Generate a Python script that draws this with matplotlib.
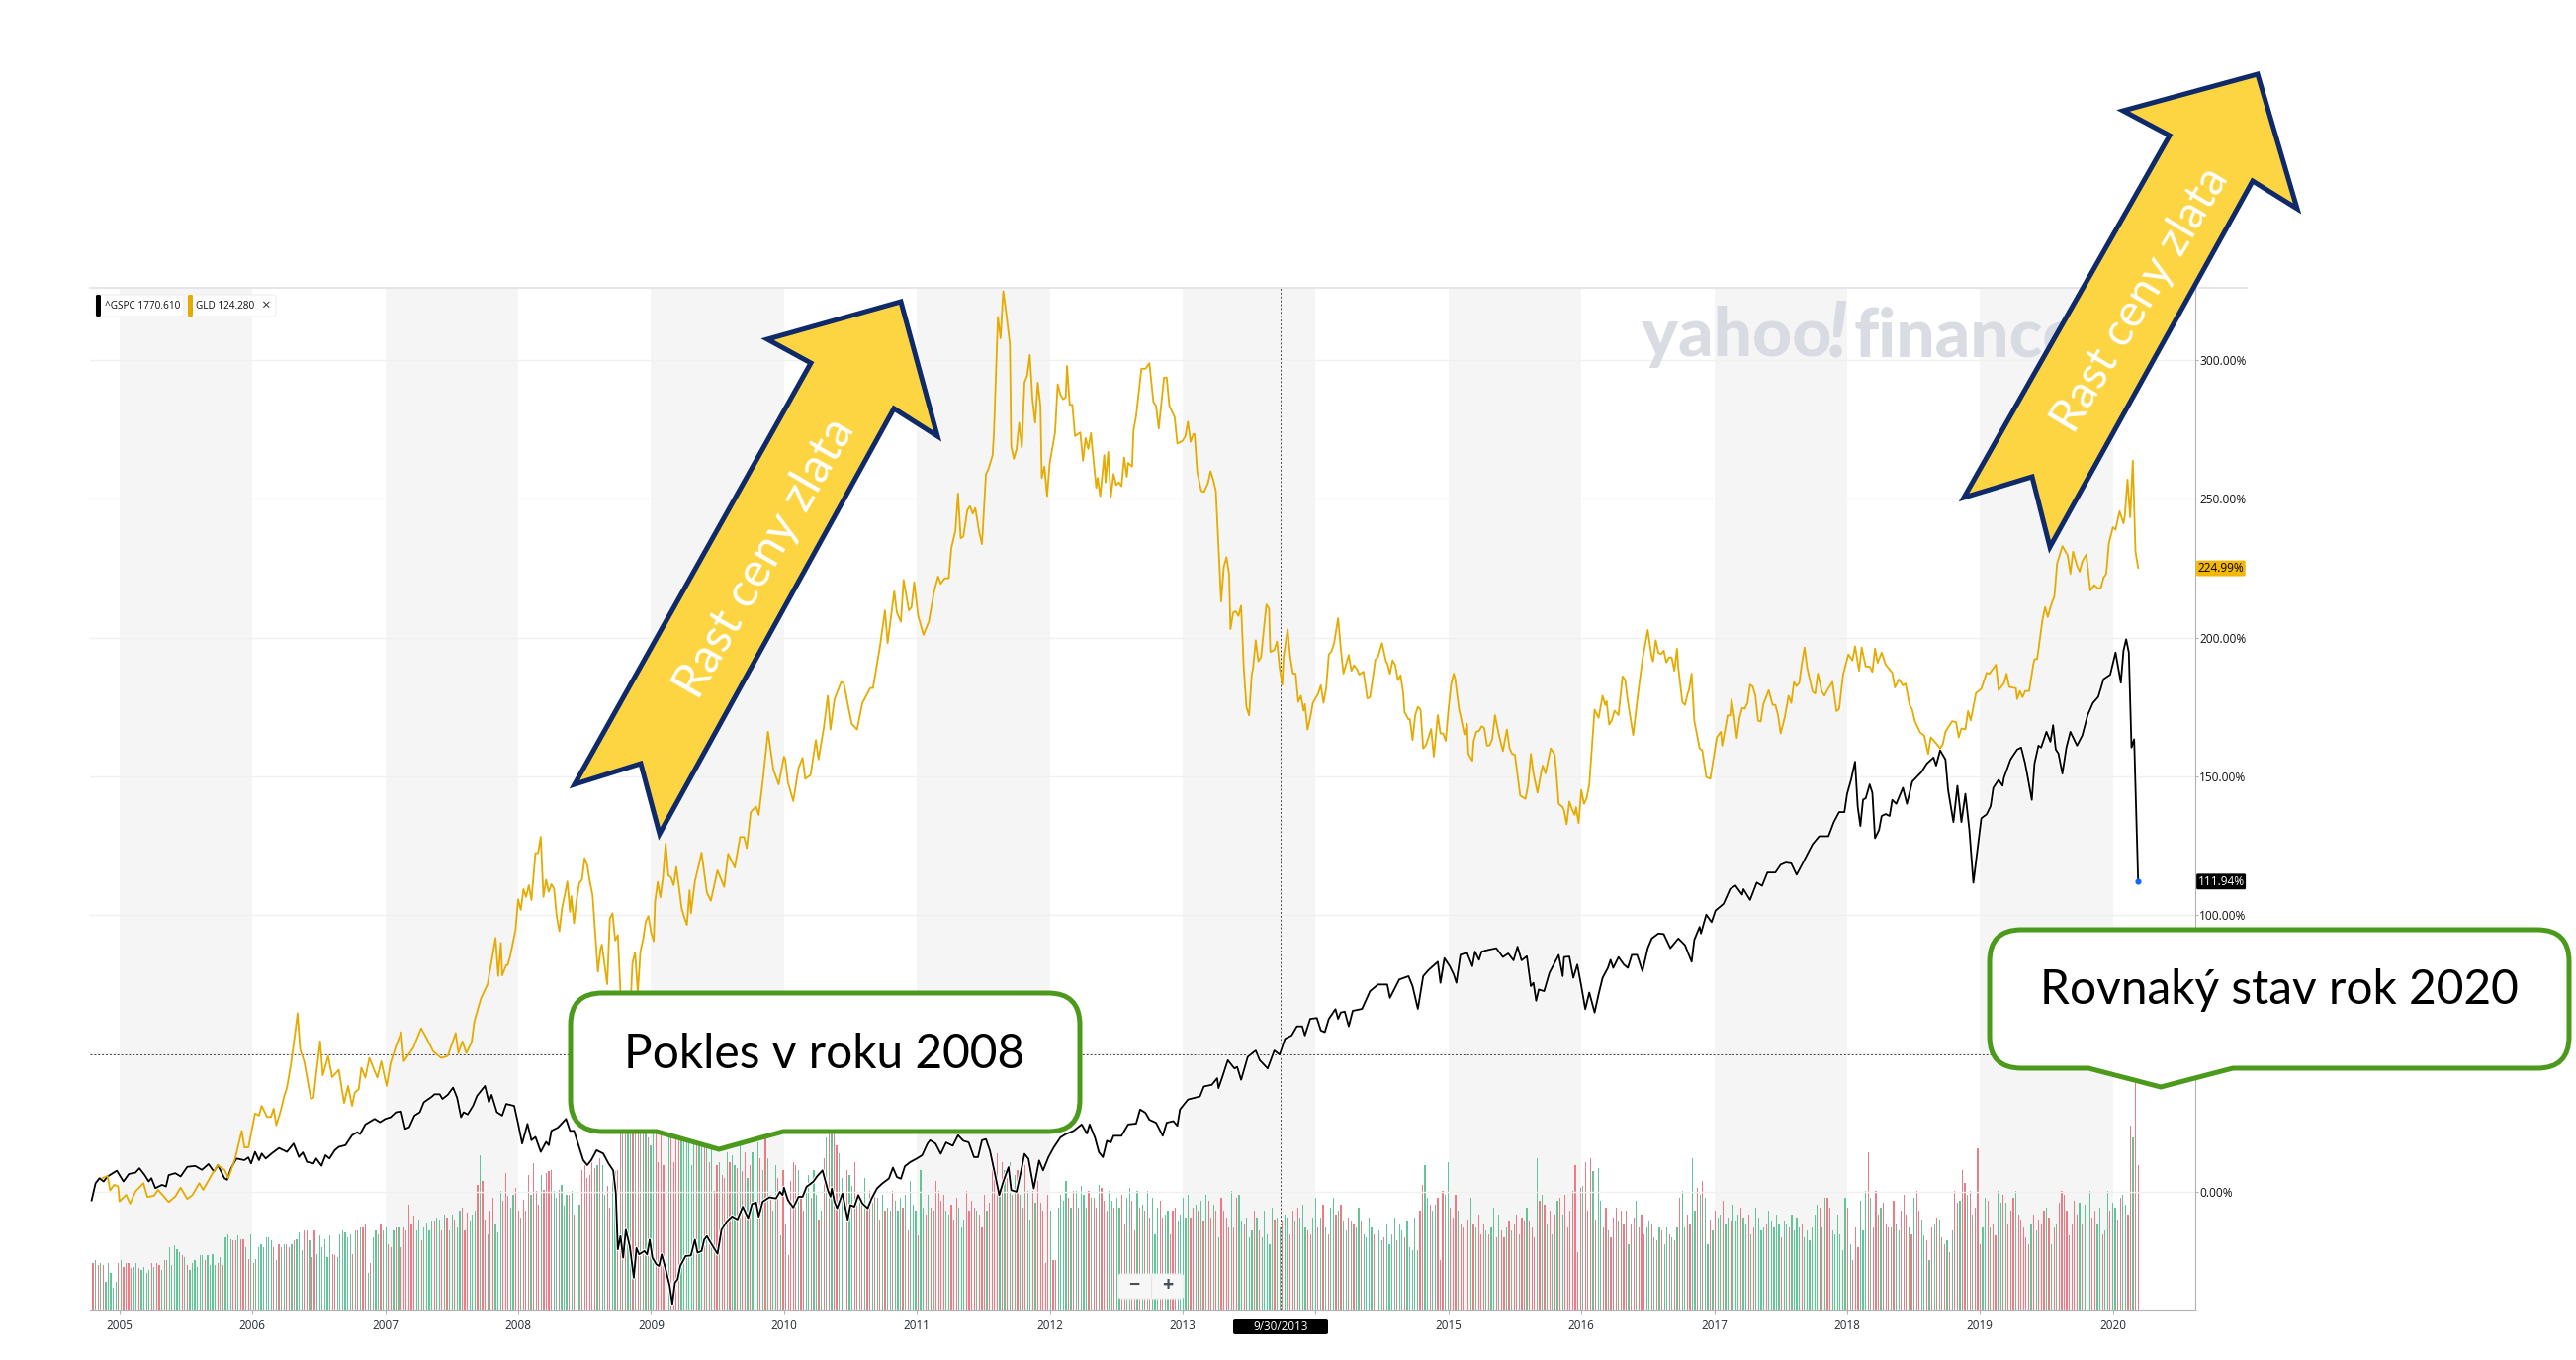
# Gold vs S&P 500, Yahoo Finance screenshot with callouts

import numpy as np
import matplotlib
matplotlib.use("Agg")
import matplotlib.pyplot as plt
import matplotlib.patheffects as pe
from matplotlib.patches import PathPatch, Polygon, FancyBboxPatch
from matplotlib.path import Path

# GLD, decimal year and % change
gld_years = [2004.87,2004.91,2004.93,2004.96,2004.99,2005.0,2005.05,2005.08,2005.12,2005.18,2005.21,2005.26,2005.29,2005.37,2005.42,2005.46,2005.51,2005.55,2005.6,2005.63,2005.7,2005.74,2005.79,2005.82,2005.87,2005.92,2005.94,2005.97,2006.02,2006.05,2006.07,2006.11,2006.14,2006.16,2006.18,2006.21,2006.24,2006.26,2006.29,2006.32,2006.34,2006.36,2006.39,2006.44,2006.46,2006.48,2006.51,2006.53,2006.57,2006.6,2006.65,2006.69,2006.72,2006.75,2006.77,2006.8,2006.82,2006.85,2006.88,2006.94,2006.97,2007.01,2007.04,2007.08,2007.12,2007.14,2007.21,2007.27,2007.31,2007.36,2007.42,2007.47,2007.53,2007.55,2007.58,2007.61,2007.65,2007.67,
             2007.72,2007.77,2007.83,2007.85,2007.87,2007.88,2007.91,2007.92,2007.94,2007.98,2008.0,2008.02,2008.04,2008.06,2008.08,2008.1,2008.12,2008.13,2008.15,2008.17,2008.19,2008.21,2008.23,2008.25,2008.27,2008.29,2008.31,2008.33,2008.35,2008.37,2008.39,2008.4,2008.42,2008.44,2008.46,2008.48,2008.5,2008.52,2008.54,2008.56,2008.58,2008.6,2008.62,2008.63,2008.65,2008.67,2008.69,2008.71,2008.73,2008.75,2008.77,2008.81,2008.85,2008.86,2008.88,2008.9,2008.92,2008.94,2008.96,2008.98,2009.0,2009.02,2009.03,2009.05,2009.07,2009.09,2009.11,2009.13,2009.15,2009.17,2009.19,2009.21,2009.23,2009.25,2009.27,2009.29,2009.3,2009.33,2009.36,2009.38,2009.42,2009.45,2009.5,2009.55,2009.58,2009.63,
             2009.67,2009.7,2009.72,2009.75,2009.79,2009.81,2009.84,2009.88,2009.92,2009.96,2010.0,2010.01,2010.03,2010.07,2010.11,2010.14,2010.16,2010.2,2010.24,2010.26,2010.3,2010.33,2010.35,2010.38,2010.43,2010.45,2010.49,2010.51,2010.55,2010.59,2010.65,2010.67,2010.72,2010.76,2010.78,2010.83,2010.85,2010.88,2010.9,2010.94,2010.96,2010.98,2011.01,2011.05,2011.09,2011.13,2011.16,2011.18,2011.21,2011.24,2011.26,2011.29,2011.31,2011.33,2011.35,2011.38,2011.4,2011.42,2011.44,2011.47,2011.49,2011.52,2011.54,2011.57,2011.58,2011.61,2011.63,2011.65,2011.67,2011.7,2011.71,2011.73,2011.75,2011.77,2011.79,2011.81,2011.83,2011.85,2011.87,2011.89,2011.91,2011.93,2011.94,2011.96,2011.98,2012.0,2012.02,2012.04,2012.06,2012.08,2012.1,2012.12,2012.13,2012.15,2012.17,2012.19,2012.23,2012.25,2012.27,2012.29,2012.31,2012.32,2012.35,2012.36,2012.38,2012.41,2012.42,2012.44,2012.46,2012.48,2012.5,2012.52,2012.54,2012.56,2012.58,2012.59,2012.62,2012.63,2012.65,2012.69,2012.72,2012.75,2012.78,2012.8,2012.82,2012.85,2012.86,2012.88,2012.9,2012.94,2012.96,2013.0,2013.02,2013.04,2013.06,2013.08,2013.09,2013.11,2013.14,2013.16,2013.19,2013.21,2013.23,2013.25,2013.29,2013.31,2013.33,2013.35,2013.36,2013.38,2013.4,2013.42,2013.44,2013.46,2013.48,2013.5,2013.52,2013.53,2013.55,2013.57,2013.59,2013.62,2013.63,2013.65,2013.66,2013.69,2013.71,2013.73,2013.75,2013.76,2013.79,2013.81,2013.83,2013.85,2013.87,2013.89,2013.91,2013.92,2013.94,2013.96,2013.98,2014.02,2014.04,2014.06,2014.08,2014.1,2014.12,2014.14,2014.17,2014.19,2014.21,2014.25,2014.27,2014.29,2014.31,2014.33,2014.36,2014.39,2014.41,2014.43,2014.45,2014.47,2014.5,2014.53,2014.54,2014.56,2014.58,2014.6,2014.62,2014.64,2014.66,2014.67,2014.7,2014.71,2014.73,2014.75,2014.77,2014.79,2014.81,2014.83,2014.87,2014.89,2014.92,2014.94,2014.96,2014.98,2015.0,2015.02,2015.04,2015.05,2015.08,2015.09,2015.12,2015.14,2015.15,2015.18,2015.19,2015.21,2015.23,2015.25,2015.27,2015.29,2015.31,2015.33,2015.35,2015.38,2015.41,2015.44,2015.46,2015.48,2015.5,2015.54,2015.58,2015.6,2015.62,2015.64,2015.67,2015.7,2015.71,2015.73,2015.77,2015.8,2015.81,2015.83,2015.86,2015.87,2015.89,2015.91,2015.93,2015.95,2015.96,2015.98,2016.0,2016.02,2016.04,2016.06,2016.08,2016.1,2016.13,2016.16,2016.18,2016.19,2016.21,2016.23,2016.25,2016.28,2016.31,2016.33,2016.35,2016.39,2016.43,2016.46,2016.5,2016.53,2016.54,2016.56,2016.58,2016.6,2016.62,2016.64,2016.66,2016.68,2016.7,2016.72,2016.73,2016.76,2016.78,2016.8,2016.81,2016.83,2016.85,2016.89,2016.91,2016.94,2016.97,2016.99,2017.02,2017.05,2017.06,2017.09,2017.1,2017.12,2017.13,2017.15,2017.17,2017.19,2017.21,2017.23,2017.25,2017.27,2017.29,2017.31,2017.33,2017.35,2017.37,2017.41,2017.44,2017.46,2017.48,2017.5,2017.53,2017.56,2017.58,2017.6,2017.62,2017.64,2017.66,2017.68,2017.7,2017.74,2017.76,2017.78,2017.81,2017.83,2017.85,2017.89,2017.92,2017.94,2017.97,2018.01,2018.04,2018.06,2018.09,2018.11,2018.14,2018.17,2018.19,2018.21,2018.23,2018.26,2018.29,2018.34,2018.36,2018.39,2018.42,2018.44,2018.47,2018.49,2018.51,2018.55,2018.58,2018.61,2018.63,2018.67,2018.7,2018.72,2018.74,2018.79,2018.82,2018.84,2018.86,2018.89,2018.91,2018.93,2018.97,2018.99,2019.01,2019.05,2019.07,2019.12,2019.14,2019.18,2019.2,2019.22,2019.27,2019.28,2019.3,2019.32,2019.34,2019.37,2019.4,2019.41,2019.43,2019.47,2019.49,2019.51,2019.53,2019.56,2019.58,2019.62,2019.66,2019.68,2019.7,2019.73,2019.75,2019.77,2019.8,2019.83,2019.86,2019.89,2019.91,2019.93,2019.95,2019.97,2020.0,2020.02,2020.05,2020.08,2020.09,2020.11,2020.13,2020.15,2020.17,2020.19]
gld_pct = [4.9,5.7,0.5,2.5,1.9,-3.5,-1.1,-4.3,0.1,3.1,-1.9,-1.4,0.7,-3.7,-1.7,1.5,-2.6,-1.1,3.1,0.7,6.7,9.6,7.9,4.9,12,22,16,16,28.3,27.5,31,27,27,30,24,28.7,34.6,37.6,46,56.7,64.4,51.3,47,33.5,34,42.4,54.3,42,49,41.4,44,32,38.2,31,35.8,37,44.8,41.2,48.3,41.2,47.1,38.2,46.5,52.5,57.6,47.1,51.9,59,55.5,50.7,48.3,49,57.3,50,54.3,50.1,54,61.4,
           69.8,74.9,91.6,77.9,89.8,78.1,81.8,81.8,85,94.5,105.5,101.7,109.2,106.4,110.6,105.3,116.6,122.2,122.2,128.1,106.4,112.6,108.2,111,109.4,99.3,94,102.3,107,112,101,106.7,96.9,105.3,111.4,112.6,120.4,117.8,111.8,107,93.4,79.4,87.6,89.2,82,74.9,98.7,100.5,90.7,92.6,71.9,66,71.9,82.6,86.4,71.9,86.8,91,97.5,99.5,93.6,90.4,104.7,111.8,106.2,113.6,125.7,114.2,113.4,110.6,117.2,110,102.3,99,96.3,108.8,100.5,112,118,122.4,108,105,116,110,122,117,
           128,128,124,137,139,136,148,166,152.5,147,157,156,147.7,141,153,156.6,149,150.4,163,156,167.5,179,166.8,177.7,183.9,183.6,173.6,168.9,166.8,176.4,181.8,181.8,196,209.8,198,216.7,209,205.7,220.8,209.8,211,220,207.8,201,205.7,216.7,222,219.4,221.4,221.4,232.4,238.5,252,235.8,236.5,246,247.4,244.7,246.7,237.8,233.7,259,261,265.8,274,315.7,308,325,318,306,269,264.5,268,277.5,268.6,292,294.5,302,286,277.5,292,283.6,257.6,261.7,251,263,268.6,274,291.4,287.7,286,286.6,298,284,284,272.7,274,263.8,272,268,273.8,268.6,254,257.6,251,265.8,256,267,250.8,259,255,256,254.6,265,258,263,261.7,274.7,280,297,297,299,285,283.6,275.4,289,293.8,293.8,283.6,279.5,270,271,272.7,277.9,270.6,273.4,273.4,259.7,252.9,252.5,255.6,260,257,252.9,213,225.5,229,222.8,203,209,209.5,207.8,211.5,189,175,171.9,186.6,189,199,191.4,193,207,211.9,210.5,194.8,195.5,198.6,189,183,193,203,192.8,187,187,176.8,179,173.6,176,166.8,171,176.4,179.8,182.8,176.4,181.8,193.9,195,198,207,196,187,193.7,188,190,188.7,186.6,187.7,178,178.5,185,192,193,198,191.4,190.7,186.9,191.8,190,184.6,186.4,179.8,173,170.5,170.5,163,172,175,174,160,161,167,157,172,165.4,165.4,162.7,174,183,187,185.3,174,172,165,168.9,158,155.5,162.7,166,166.3,168,167.3,161,161.1,163.4,172,164.8,159,166.8,160,158,157.7,143,141.8,147,158,151,144,152,153.8,151,160,157.7,152.5,140,138.8,137.6,132.6,140.8,138,136,138.8,133,145,140,142,147,160.7,174,171,179,175.7,177,168.6,170.2,173.6,172,186,184.7,177,164.8,181,192,202.7,192.8,191.4,199,194.5,194,195.3,191,192.8,192.8,188,196,189,176.8,175.7,179.8,181,187,170,160,159.3,149.7,149,155,164,166,161,168.9,171.9,171.9,177.7,171.6,163.7,170.9,174.6,174.3,176.4,183,182.3,179,170,169.7,176,181,175.7,175.7,172,165.4,171,179,176.4,183.9,182.5,183.6,190.7,196.4,189,180.5,179.8,187,180.5,179,181,184,173.5,174.2,186.6,193.9,191.7,196.8,188,196.4,189.5,189.5,187.6,196,190.9,194.6,190.2,187.3,182,184.9,182.7,183.4,175.7,174,169.8,165.7,164.7,158,164,161.8,160,161.5,166,169.8,169.5,164,167.2,166.9,173.5,170.1,180,180.7,181.5,187.3,186.9,190.2,181,183.5,187,182.2,181.7,177.8,180.7,178.5,180.7,180.7,190,192.2,192.2,206.3,211,207.4,211,215,226.7,233,229.6,223,231,225.9,223.8,227.5,230,217,218.9,217.7,218,221.6,223,234,239.8,238.9,245.6,241.2,244,257,243.4,263.8,231,225.2]

# S&P 500, decimal year and % change
spx_years = [2004.79,2004.82,2004.85,2004.88,2004.91,2004.95,2004.98,2005.03,2005.07,2005.12,2005.15,2005.19,2005.22,2005.24,2005.27,2005.32,2005.35,2005.37,2005.42,2005.46,2005.51,2005.57,2005.62,2005.67,2005.71,2005.74,2005.79,2005.81,2005.84,2005.88,2005.94,2005.97,2005.99,2006.02,2006.05,2006.07,2006.1,2006.15,2006.2,2006.26,2006.31,2006.35,2006.38,2006.41,2006.46,2006.48,2006.52,2006.55,2006.58,2006.62,2006.65,2006.7,2006.75,2006.79,2006.81,2006.85,2006.92,2006.96,2007.0,2007.04,2007.08,2007.12,2007.15,2007.18,2007.22,2007.26,2007.29,2007.35,2007.37,2007.41,2007.43,2007.47,2007.51,2007.54,2007.57,2007.59,2007.62,2007.66,2007.69,2007.75,2007.78,2007.8,2007.84,2007.88,2007.91,2007.97,2008.0,2008.03,2008.07,2008.1,2008.13,2008.17,2008.21,2008.23,2008.25,2008.3,2008.36,2008.39,2008.42,2008.46,2008.49,2008.52,2008.55,2008.59,2008.64,2008.68,
             2008.715,2008.735,2008.75,2008.77,2008.79,2008.81,2008.84,2008.87,2008.89,2008.91,2008.95,2008.97,2008.99,2009.01,2009.04,2009.06,2009.08,2009.11,2009.14,2009.16,2009.18,2009.2,2009.22,2009.26,2009.3,2009.33,2009.35,2009.38,2009.4,2009.42,2009.45,2009.5,2009.53,2009.57,2009.61,2009.65,2009.69,2009.73,2009.76,2009.79,2009.81,2009.84,2009.89,2009.94,2009.97,2009.99,2010.0,2010.03,2010.07,2010.11,2010.14,2010.17,2010.22,2010.25,2010.29,2010.33,2010.35,2010.36,2010.38,2010.4,2010.44,2010.48,2010.5,2010.53,2010.56,2010.59,2010.63,2010.66,2010.7,2010.74,2010.79,2010.82,2010.85,2010.88,2010.91,2010.95,
             2011.0,2011.04,2011.08,2011.1,2011.14,2011.18,2011.22,2011.27,2011.31,2011.35,2011.39,2011.43,2011.46,2011.49,2011.52,2011.55,2011.59,2011.62,2011.65,2011.69,2011.71,2011.75,2011.78,2011.81,2011.84,2011.88,2011.92,2011.95,2011.99,2012.03,2012.08,2012.12,2012.18,2012.24,2012.28,2012.3,2012.34,2012.37,2012.4,2012.43,2012.46,2012.48,2012.54,2012.59,2012.65,2012.68,2012.72,2012.75,2012.8,2012.85,2012.88,2012.93,2012.96,2012.98,2013.04,2013.13,2013.16,2013.22,2013.26,2013.27,2013.3,2013.34,2013.39,2013.41,2013.44,2013.49,2013.55,2013.58,2013.64,2013.69,2013.73,2013.77,2013.82,2013.86,2013.9,2013.92,2013.96,2014.01,2014.04,2014.07,2014.1,2014.15,2014.17,2014.19,2014.22,2014.25,2014.28,2014.35,2014.41,2014.47,2014.54,2014.56,2014.63,2014.7,2014.73,2014.77,2014.81,2014.85,2014.92,2014.94,2014.97,2015.01,2015.04,2015.06,2015.09,2015.14,2015.18,2015.2,2015.23,2015.25,2015.3,2015.36,2015.41,2015.45,2015.49,2015.52,2015.55,2015.59,2015.62,2015.64,2015.66,2015.68,2015.72,2015.76,2015.83,2015.86,2015.87,2015.91,2015.94,2015.97,2016.0,2016.03,2016.06,2016.1,2016.13,2016.16,2016.2,2016.22,2016.24,2016.28,2016.32,2016.35,2016.38,2016.42,2016.46,2016.5,2016.53,2016.58,2016.62,2016.67,2016.73,2016.78,2016.83,2016.85,2016.89,2016.9,2016.94,2016.98,2017.01,2017.07,2017.12,2017.16,2017.21,2017.22,2017.27,2017.32,2017.36,2017.4,2017.46,2017.5,2017.54,2017.58,2017.62,2017.66,2017.7,2017.74,2017.79,2017.86,2017.9,2017.94,2017.98,2018.0,2018.03,2018.06,2018.08,2018.1,2018.12,2018.14,2018.17,2018.19,2018.21,2018.24,2018.26,2018.29,2018.32,2018.34,2018.37,2018.42,2018.45,2018.49,2018.53,2018.56,2018.6,2018.65,2018.67,2018.7,2018.74,2018.76,2018.8,2018.83,2018.86,2018.89,2018.92,2018.95,2018.98,2019.01,2019.05,2019.08,2019.1,2019.14,2019.17,2019.18,2019.23,2019.28,2019.31,2019.34,2019.36,2019.39,2019.41,2019.44,2019.46,2019.5,2019.53,2019.55,2019.57,2019.59,2019.62,2019.65,2019.68,2019.73,2019.77,2019.81,2019.85,2019.89,2019.93,2019.98,2020.02,2020.06,2020.08,2020.1,2020.12,2020.14,2020.16,2020.19]
spx_pct = [-3.1,3.1,4.9,3.7,5.5,6.7,7.6,3.7,6.4,6.9,8.5,6,3.7,4.9,1.3,2.5,1.9,6,6.7,5.5,9,9.3,7.9,10,7.3,9.6,4.9,4.3,8.5,12,11.4,12.4,10.2,14.4,11.4,13.8,12,14,15.8,14.4,17.4,12.6,14.2,10.8,10.2,12,9.4,13.2,12,15,16.2,16.8,20.4,21.5,20.8,24.3,26.3,25.1,26.3,26.9,28.7,29,22.7,23.3,27.5,28.7,32.3,34.3,35.2,35.2,33.5,35,37.6,34,26.9,28.7,27.9,31,34.6,38.2,32.3,35,28.7,27.5,31.7,31,24.5,17.4,24.5,18.6,19.8,14.4,18,16.8,22,23.2,26.3,22,22,16,11.4,9.6,11.4,15,13.8,10.2,
           7.7,-0.6,-20.8,-16,-23.8,-13.7,-19.7,-31,-20.3,-22.6,-21.4,-22.6,-17.3,-23.8,-26.2,-26.8,-22.6,-28,-33.9,-40.5,-32.8,-31.6,-26.8,-23.2,-23,-17.3,-22,-21.4,-17.3,-16,-18.5,-22.4,-13.7,-10.7,-8.9,-10,-5.4,-9.5,-4.4,-3.9,-9,-3.6,-2,-2.4,0,-1.2,1.5,-3,-5.7,-1.8,-1.8,1.8,3.6,5.6,7.7,0.6,-1.8,1.2,-3.6,-6,-0.6,-10.1,-4.8,-5.4,-1.2,-4.2,-6,-2.4,1.2,3,4.8,8.7,5.3,4.7,9.2,10.7,
           12,13.2,17.4,18.6,17.4,13.7,17.8,16.6,20.4,18.4,17.8,12.5,12.5,18.6,19,14.8,5.9,-1.2,3.6,8.9,0.6,0,6.5,13.7,11.9,1.2,11.3,7.7,12.5,16,19.6,20.8,22,24.3,21,24.3,19.6,14.3,12.5,18.4,17.8,20.2,20.2,24.3,24.6,29.7,28.5,26,24.9,20.2,24.9,25.5,23.8,29.7,33.3,34.4,38,38.6,41,37.4,41.6,47.5,44.5,45.1,40.4,48.7,51,47.5,44.5,51,49.5,55.2,56.4,59.7,59.7,56.4,62.4,62.7,58.2,57.6,62.4,65.9,62.4,64.7,65,59.7,65.3,66,72.4,74.8,74.8,70,76.6,77.8,74.2,66,77.8,80,83,75.4,84.3,81.4,78.4,75.4,85.5,86.3,81.4,86.7,83.7,86.7,87.3,87.9,84.7,86,83.5,88.5,83.5,85,74.2,75.4,68.9,73,72.4,79,85.5,77.8,84.7,84.9,77.2,82,74.2,65.9,71.9,64.7,71.3,77.2,80.8,83.7,80.8,84.7,82,80.8,85.5,85.5,79.6,87.9,91.4,93.2,93,87.9,91.4,89,83,90.9,95.6,93.2,100,97.3,101.5,103.9,109.3,110.5,107.2,109.2,105.3,111.6,110.4,115.2,115.2,118,118.8,118.5,114.4,118,121.7,125.4,128.3,128.3,133.4,137,137,143.6,148.7,155.2,139,132,141.5,142,147,144,127.6,130.5,135.6,136.3,135.6,141.4,140,145.8,140,148,150,151.5,154.5,156.7,153.8,159.3,156,145,133.4,146.5,133.4,143.6,130.5,111.5,123,134.8,136.2,139.2,145.8,148.7,146.5,149.4,156,159.6,160.3,154.5,149.4,141.4,154.5,161,160.3,166,162.4,168.4,159.6,158.2,150.9,160.3,166,161,164.7,172,176.4,178.6,185,186.6,194.6,183.7,195.3,199.4,194.6,160.3,163.3,112]

# weekly volume, sign is the direction of the week (+ up, - down)
vol_2004 = [-28,30,-27,28,-27,17,28,22,13,17,-28,30,-26,-28]
vol_2005 = [-28,-25,26,28,-25,24,26,22,24,-28,26,-28,-27,24,30,-30,38,27,39,37,35,-33,32,-27,24,28,30,26,33,33,-30,33,27,34,27,-28,32,-27,44,46,43,-42,-42,45,-43,-43,38,-31,46,-28,31,38]
vol_2006 = [40,38,44,44,42,-38,30,-40,38,40,-40,-38,40,-42,43,47,36,-48,-48,42,-32,-48,34,45,38,43,32,45,-34,-33,32,46,48,47,44,46,-34,48,-48,50,-50,-52,22,-28,44,48,46,-52,48,50,-40,-38]
vol_2007 = [48,-50,50,-38,-50,-48,-64,-52,-57,48,55,-42,50,53,48,54,-54,56,55,-48,58,-56,48,58,-55,50,60,-62,-48,-59,54,58,60,-76,94,-78,-55,46,-60,-68,52,47,72,-66,-83,-69,62,70,-74,-60,56,-67]
vol_2008 = [-60,-82,70,-89,-72,-64,82,-73,-83,-84,-85,72,68,-73,76,63,70,-70,72,-58,-76,64,-85,-88,-80,-82,-90,-86,88,-92,88,70,-75,-62,80,84,-85,-112,118,-125,125,120,-128,122,-118,126,-120,115,-105,100,110,-108]
vol_2009 = [-90,-112,-88,108,112,-105,-90,-112,-118,112,106,108,106,88,110,-112,112,108,-108,110,-90,104,-72,-88,90,-82,-80,96,-90,94,88,-86,100,-84,-96,80,-88,96,-100,102,-92,85,-105,92,-70,60,88,-80,45,-85,-52,-33]
vol_2010 = [-78,-90,-88,85,-70,-60,75,82,-68,85,70,-55,60,-92,105,-110,108,-108,-100,95,80,-72,-85,82,75,-90,-66,70,-68,80,-62,-72,65,-72,68,-55,70,-60,62,60,-72,66,60,68,-62,70,-48,78,64,60,-45,85]
vol_2011 = [62,-58,70,-62,60,-78,-72,-66,-70,60,58,-64,-55,-68,62,50,55,-72,-60,-66,-62,60,-58,-50,-70,60,-65,-90,-85,-95,70,-90,85,-80,90,-70,82,-85,70,-62,-88,72,55,-72,65,-78,-65,-60,-28,-70,60,-30]
vol_2012 = [-30,62,70,66,78,-68,62,-72,72,-62,75,70,62,-72,68,-68,-62,76,-74,-66,-60,72,66,-62,68,62,-70,-52,68,74,-66,-48,72,-62,64,-60,72,-56,68,46,62,-66,-56,58,60,-46,-60,-62,54,58,68,56]
vol_2013 = [70,-56,-62,64,-60,66,-54,70,-66,-56,64,-60,44,-68,-60,-56,-50,72,-50,-68,70,54,-52,56,44,48,-60,56,-48,44,60,46,40,62,-55,56,50,-54,58,56,-46,-60,54,-62,56,64,50,-48,-46,56,68,-50]
vol_2014 = [56,-64,50,-46,62,68,-58,60,-64,54,48,-56,54,-52,50,62,-54,46,44,56,50,-46,56,48,42,-44,52,40,46,56,-42,52,48,-44,54,38,36,56,36,-60,-76,88,68,-64,60,64,-68,-30,-72,70,90,-62]
vol_2015 = [-56,-70,60,-52,-50,56,-55,68,-52,50,-58,-46,-52,48,-46,50,62,-44,58,-48,-44,50,-54,48,-52,-58,46,-56,-54,62,-54,-50,-44,92,-66,70,-64,52,-60,46,-58,66,-68,58,-70,-50,-60,-72,-88,-35,-74,75]
vol_2016 = [-90,-60,-92,84,-55,86,66,-50,-62,48,-44,-56,-62,54,-60,-52,-60,40,-52,-56,66,-50,-58,-46,50,54,-52,44,-42,50,-48,40,50,-46,44,-42,50,-68,72,50,-58,-52,92,60,-74,70,-78,68,40,-55,48,-60]
vol_2017 = [56,58,-66,52,56,-54,64,54,58,-62,56,52,-58,46,-50,62,56,48,50,-52,60,54,50,58,52,-44,54,52,-50,58,48,56,50,-52,44,48,42,50,58,64,-62,50,68,-68,-62,48,46,58,46,36,68,-62]
vol_2018 = [40,-30,-50,-38,66,48,72,-96,68,-50,-72,-58,62,-65,-52,-50,50,-66,52,48,-60,-70,-58,50,-46,68,-72,-60,55,45,-42,30,-50,52,-56,55,-44,-40,42,-35,48,-72,-65,66,-85,-77,70,-72,58,-62,-98,-40]
vol_2019 = [50,68,-66,50,-52,-45,72,65,-70,65,-52,-60,-68,72,-58,-55,-50,-44,-40,52,-58,48,-55,-52,-60,62,-56,40,-50,52,-65,-72,-70,-60,-45,-52,-66,-58,65,-52,64,-70,72,-56,-60,52,62,-46,48,72,-60,65]
vol_2020 = [62,-55,-68,70,64,-58,-112,105,-160,-88]
volume = (vol_2004 + vol_2005 + vol_2006 + vol_2007 + vol_2008 + vol_2009 + vol_2010 + vol_2011
          + vol_2012 + vol_2013 + vol_2014 + vol_2015 + vol_2016 + vol_2017 + vol_2018 + vol_2019 + vol_2020)

year_ticks = list(range(2005, 2021))
# 2014 sits under the crosshair date tag in the screenshot
year_labels = ["" if y == 2014 else str(y) for y in year_ticks]
pct_ticks = [0, 50, 100, 150, 200, 250, 300]
last_year = 2020.19
cross_year = 2013.74
cross_pct = 49.5
gld_last = 224.99
spx_last = 111.94

W, H = 2605, 1375
GOLD = "#e6ab00"
plt.rcParams["font.family"] = ["Open Sans", "DejaVu Sans"]
fig = plt.figure(figsize=(W / 100, H / 100), dpi=100)

# plot box in pixels of the picture
left, right, top, bottom = 91, 2220, 291, 1324
box = [left / W, 1 - bottom / H, (right - left) / W, (bottom - top) / H]

# volume bars and year bands underneath
axv = fig.add_axes(box, zorder=1)
axv.set_xlim(2004.778, 2020.62)
axv.set_ylim(0, 622)
axv.axis("off")
for y in year_ticks[::2]:
    axv.axvspan(y, y + 1, color="#f5f5f5", lw=0)
weeks = last_year - (len(volume) - 1 - np.arange(len(volume))) * 7 / 365.25
vol = np.array(volume)
axv.bar(weeks, np.abs(vol), width=0.009, color=np.where(vol > 0, "#62c598", "#ee7a85"), lw=0)

# price lines
ax = fig.add_axes(box, zorder=2)
ax.patch.set_visible(False)
ax.set_xlim(2004.778, 2020.62)
ax.set_ylim(-42.5, 326.2)
halo = [pe.withStroke(linewidth=2.8, foreground="white")]
ax.plot(spx_years, spx_pct, color="black", lw=1.3, path_effects=halo, zorder=4)
ax.plot(gld_years, gld_pct, color=GOLD, lw=1.3, zorder=5)
ax.plot([last_year], [spx_last], "o", color="#0f69ff", ms=3.4, zorder=6)

for spine in ["left", "top"]:
    ax.spines[spine].set_visible(False)
ax.spines["right"].set_color("#b0b2b6")
ax.spines["bottom"].set_color("#b0b2b6")
ax.yaxis.tick_right()
ax.set_yticks(pct_ticks)
ax.set_yticklabels([f"{p:.2f}%" for p in pct_ticks], fontsize=8.6, color="#111111")
ax.set_xticks(year_ticks)
ax.set_xticklabels(year_labels, fontsize=8.4, color="#232a31")
ax.tick_params(axis="y", length=2, width=0.8, color="#b0b2b6", pad=1)
ax.tick_params(axis="x", length=3, width=0.8, color="#b0b2b6", pad=4)
ax.grid(axis="y", color="#f0f0f0", lw=1)
ax.set_axisbelow(True)

# crosshair
ax.axvline(cross_year, color="#444444", lw=0.7, ls=(0, (2, 2)), zorder=3)
ax.axhline(cross_pct, color="#444444", lw=0.7, ls=(0, (2, 2)), zorder=3)

# value tags on the right axis
tr = ax.get_yaxis_transform()
ax.text(1.0012, gld_last, f"{gld_last:.2f}%", transform=tr, fontsize=8.6, va="center", ha="left", color="black",
        bbox=dict(boxstyle="round,pad=0.12", fc="#f5b800", ec="none"), zorder=8)
ax.text(1.0012, spx_last, f"{spx_last:.2f}%", transform=tr, fontsize=8.6, va="center", ha="left", color="white",
        bbox=dict(boxstyle="round,pad=0.12", fc="black", ec="none"), zorder=8)

# everything drawn on top of the chart, in picture pixels
ov = fig.add_axes([0, 0, 1, 1], zorder=3)
ov.set_xlim(0, W)
ov.set_ylim(H, 0)
ov.axis("off")

ov.add_line(plt.Line2D([left, 2272], [top, top], color="#dfe1e5", lw=1.2))

# crosshair date tag
ov.add_patch(FancyBboxPatch((1247, 1334), 96, 15, boxstyle="round,pad=0,rounding_size=2", fc="black", ec="none"))
ov.text(1295, 1341.5, "9/30/2013", fontsize=8.4, va="center", ha="center", color="white")

# legend chips
for x0, x1, col, label, tx in [(97, 186, "black", "^GSPC 1770.610", 106), (190, 279, GOLD, "GLD 124.280", 198)]:
    ov.add_patch(FancyBboxPatch((x0, 298), x1 - x0, 22, boxstyle="round,pad=0,rounding_size=3",
                                fc="white", ec="#eeeeee", lw=0.8))
    ov.add_patch(FancyBboxPatch((x0, 298), 5, 22, boxstyle="round,pad=0,rounding_size=1.5", fc=col, ec="none"))
    ov.text(tx, 309, label, fontsize=7.2, va="center", ha="left", color="#111111")
ov.text(268, 309, "\u00d7", fontsize=11, va="center", ha="center", color="#333333")

# watermark
logo = dict(fontweight="black", family="Lato", va="baseline", ha="left", color="#d3d7df", alpha=0.85, zorder=1)
ov.text(1660, 360, "yahoo", fontsize=50, **logo)
ov.text(1848, 360, "!", fontsize=56, style="italic", **logo)
ov.text(1875, 360, "finance", fontsize=50, **logo)

# zoom buttons
ov.add_patch(FancyBboxPatch((1131, 1288), 66, 25, boxstyle="round,pad=0,rounding_size=3",
                            fc="#f7f7f7", ec="#ececec", lw=0.8))
ov.plot([1164, 1164], [1290, 1311], color="#e4e4e4", lw=0.8)
ov.text(1147, 1300, "\u2212", fontsize=14, fontweight="bold", va="center", ha="center", color="#464e56")
ov.text(1181, 1300, "+", fontsize=14, fontweight="bold", va="center", ha="center", color="#464e56")


def arrow(points, text_xy, angle, size):
    ov.add_patch(Polygon(points, closed=True, fc="#fdd543", ec="#0e2a6b", lw=3.6, joinstyle="miter", zorder=5))
    ov.text(text_xy[0], text_xy[1], "Rast ceny zlata", family="Lato", fontsize=size, color="white", rotation=angle,
            rotation_mode="anchor", ha="center", va="center", zorder=6)


def callout(x0, y0, x1, y1, r, base_l, tip_x, tip_y, base_r, label, lab_x, lab_y, size):
    verts = [(x0 + r, y0), (x1 - r, y0), (x1, y0), (x1, y0 + r), (x1, y1 - r), (x1, y1), (x1 - r, y1),
             (base_r, y1), (tip_x, tip_y), (base_l, y1), (x0 + r, y1), (x0, y1), (x0, y1 - r),
             (x0, y0 + r), (x0, y0), (x0 + r, y0), (x0 + r, y0)]
    codes = [Path.MOVETO, Path.LINETO, Path.CURVE3, Path.CURVE3, Path.LINETO, Path.CURVE3, Path.CURVE3,
             Path.LINETO, Path.LINETO, Path.LINETO, Path.LINETO, Path.CURVE3, Path.CURVE3,
             Path.LINETO, Path.CURVE3, Path.CURVE3, Path.CLOSEPOLY]
    ov.add_patch(PathPatch(Path(verts, codes), fc="white", ec="#4b9a1c", lw=3.6, zorder=7))
    ov.text(lab_x, lab_y, label, family="Lato", fontsize=size, color="black", ha="center", va="center", zorder=8)


arrow([(911, 305), (948, 441), (904, 413), (667, 843), (648, 772), (581, 793), (820, 367), (776, 343)],
      (773, 564), 60, 35)
arrow([(2283, 75), (2323, 211), (2278, 183), (2073, 553), (2055, 482), (1986, 503), (2194, 137), (2147, 112)],
      (2165, 303), 58.8, 33.5)
callout(577, 1004, 1092, 1144, 32, 664, 727, 1162, 792, "Pokles v roku 2008", 834, 1066, 34.5)
callout(2012, 940, 2598, 1080, 32, 2112, 2185, 1099, 2258, "Rovnak\u00fd stav rok 2020", 2305, 1001, 34.5)

fig.savefig("out.png", dpi=100)
